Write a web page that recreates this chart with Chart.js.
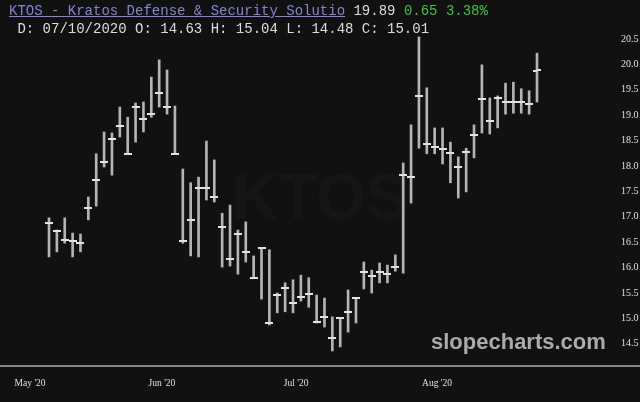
<!DOCTYPE html>
<html>
<head>
<meta charset="utf-8">
<script src="https://cdn.jsdelivr.net/npm/chart.js@4/dist/chart.umd.min.js"></script>
<style>
  body { margin: 0; background: #111111; }
  #wrap { position: relative; width: 640px; height: 402px; overflow: hidden; background: #111111; }
  #chart { position: absolute; left: 0; top: 0; }
  .mono { position: absolute; font-family: "Liberation Mono", "DejaVu Sans Mono", monospace; font-size: 14px; line-height: 16px; white-space: pre; }
  #title { left: 9px; top: 3px; color: #dddddd; }
  #title .name { color: #8484d8; text-decoration: underline; }
  #title .chg { color: #3cc43c; }
  #info { left: 9px; top: 21px; color: #dddddd; }
  #axisline { position: absolute; left: 0; top: 365px; width: 640px; height: 2px; background: #858585; }
  #site { position: absolute; left: 431px; top: 328px; font-family: "Liberation Sans", Arial, sans-serif; font-weight: bold; font-size: 22px; line-height: 28px; color: #ababab; }
  #ghost { position: absolute; left: 232px; top: 160px; font-family: "Liberation Sans", Arial, sans-serif; font-weight: bold; font-size: 64px; color: rgba(255,255,255,0.02); }
</style>
</head>
<body>
<div id="wrap">
  <div id="ghost">KTOS</div>
  <canvas id="chart" width="640" height="402"></canvas>
  <div id="title" class="mono"><span class="name">KTOS - Kratos Defense &amp; Security Solutio</span> 19.89 <span class="chg">0.65 3.38%</span></div>
  <div id="info" class="mono"> D: 07/10/2020 O: 14.63 H: 15.04 L: 14.48 C: 15.01</div>
  <div id="axisline"></div>
  <div id="site">slopecharts.com</div>
</div>
<script>
// daily OHLC, one entry per trading session
const highs = [16.98, 16.74, 16.98, 16.68, 16.66, 17.39, 18.24, 18.67, 18.65, 19.16,
               18.96, 19.24, 19.26, 19.75, 20.09, 19.89, 19.18, 17.94, 17.67, 17.78,
               18.49, 18.12, 17.07, 17.23, 16.74, 16.90, 16.23, 16.39, 16.35, 15.50,
               15.70, 15.76, 15.85, 15.80, 15.46, 15.40, 15.03, 15.01, 15.56, 15.40,
               16.11, 15.95, 16.09, 16.05, 16.25, 18.06, 18.81, 20.54, 19.54, 18.75,
               18.75, 18.47, 18.18, 18.35, 18.81, 19.99, 19.34, 19.38, 19.63, 19.65,
               19.52, 19.48, 20.22];
const lows = [16.21, 16.31, 16.48, 16.21, 16.31, 16.94, 17.21, 17.98, 17.82, 18.57,
              18.24, 18.47, 18.67, 18.96, 19.16, 19.02, 18.24, 16.48, 16.23, 16.21,
              17.33, 17.29, 16.01, 16.03, 15.87, 16.11, 15.78, 15.38, 14.87, 15.11,
              15.13, 15.11, 15.34, 15.22, 14.91, 14.83, 14.36, 14.44, 14.73, 14.91,
              15.58, 15.50, 15.70, 15.70, 15.93, 15.89, 17.27, 18.35, 18.24, 18.24,
              18.04, 17.67, 17.37, 17.49, 18.16, 18.65, 18.63, 18.75, 19.02, 19.04,
              19.04, 19.02, 19.26];
const opens = [16.88, 16.73, 16.54, 16.52, 16.48, 17.17, 17.72, 18.08, 18.53, 18.79,
               18.24, 19.16, 18.93, 19.02, 19.44, 19.16, 18.24, 16.52, 16.94, 17.57,
               17.57, 17.39, 16.80, 16.17, 16.66, 16.31, 15.80, 16.39, 14.91, 15.46,
               15.60, 15.30, 15.42, 15.48, 14.93, 15.03, 14.61, 15.00, 15.13, 15.40,
               15.91, 15.83, 15.91, 15.87, 16.01, 17.82, 17.78, 19.38, 18.43, 18.37,
               18.33, 18.26, 17.98, 18.28, 18.61, 19.32, 18.89, 19.34, 19.26, 19.26,
               19.26, 19.22, 19.87];
const closes = [16.88, 16.73, 16.54, 16.52, 16.48, 17.17, 17.72, 18.08, 18.53, 18.79,
                18.24, 19.16, 18.93, 19.02, 19.44, 19.16, 18.24, 16.52, 16.94, 17.57,
                17.57, 17.39, 16.80, 16.17, 16.66, 16.31, 15.80, 16.39, 14.91, 15.46,
                15.60, 15.30, 15.42, 15.48, 14.93, 15.03, 14.61, 15.01, 15.13, 15.40,
                15.91, 15.83, 15.91, 15.87, 16.01, 17.82, 17.78, 19.38, 18.43, 18.37,
                18.33, 18.26, 17.98, 18.28, 18.61, 19.32, 18.89, 19.34, 19.26, 19.26,
                19.26, 19.22, 19.89];

const yTickValues = [14.5, 15, 15.5, 16, 16.5, 17, 17.5, 18, 18.5, 19, 19.5, 20, 20.5];
// month labels sit between sessions, positions in bar-index units
const monthTickPos = [-2.4, 14.35, 31.4, 49.3];
const monthLabels = ["May '20", "Jun '20", "Jul '20", "Aug '20"];

// little half-width dashes: open on the left, close on the right
function makeTick(side) {
    const c = document.createElement('canvas');
    c.width = 8;
    c.height = 2;
    const g = c.getContext('2d');
    g.fillStyle = '#e4e4e4';
    if (side === 'left') g.fillRect(0, 0, 4, 2);
    else g.fillRect(4, 0, 4, 2);
    return c;
}
const openTick = makeTick('left');
const closeTick = makeTick('right');

const idx = highs.map((h, i) => i);

new Chart(document.getElementById('chart'), {
    type: 'bar',
    data: {
        datasets: [
            {
                label: 'High-Low',
                data: idx.map(i => ({ x: i, y: [lows[i], highs[i]] })),
                backgroundColor: '#b4b4b4',
                borderWidth: 0,
                barThickness: 2,
                order: 2
            },
            {
                type: 'scatter',
                label: 'Open',
                data: idx.map(i => ({ x: i, y: opens[i] })),
                pointStyle: openTick,
                pointRadius: 4,
                order: 1
            },
            {
                type: 'scatter',
                label: 'Close',
                data: idx.map(i => ({ x: i, y: closes[i] })),
                pointStyle: closeTick,
                pointRadius: 4,
                order: 1
            }
        ]
    },
    options: {
        responsive: false,
        animation: false,
        events: [],
        layout: { autoPadding: false, padding: { top: 30, left: 0, right: 0, bottom: 0 } },
        plugins: {
            legend: { display: false },
            tooltip: { enabled: false }
        },
        scales: {
            x: {
                type: 'linear',
                offset: false,
                min: -6.225,
                max: 71.91,
                grid: { display: false, drawTicks: false },
                border: { display: false },
                afterBuildTicks: (scale) => {
                    scale.ticks = monthTickPos.map(v => ({ value: v }));
                },
                afterFit: (scale) => {
                    scale.height = 36;
                    scale.paddingLeft = 0;
                    scale.paddingRight = 0;
                },
                ticks: {
                    autoSkip: false,
                    maxRotation: 0,
                    padding: 12,
                    color: '#e0e0e0',
                    font: { family: 'Liberation Serif', size: 9.5 },
                    callback: (value, index) => monthLabels[index]
                }
            },
            y: {
                type: 'linear',
                position: 'right',
                min: 14.063,
                max: 20.677,
                grid: { display: false, drawTicks: false },
                border: { display: false },
                afterBuildTicks: (scale) => {
                    scale.ticks = yTickValues.map(v => ({ value: v }));
                },
                afterFit: (scale) => {
                    scale.width = 25;
                    scale.paddingTop = 0;
                    scale.paddingBottom = 0;
                },
                ticks: {
                    padding: 6,
                    color: '#e0e0e0',
                    font: { family: 'Liberation Serif', size: 10 },
                    callback: (value) => Number(value).toFixed(1)
                }
            }
        }
    }
});
</script>
</body>
</html>
